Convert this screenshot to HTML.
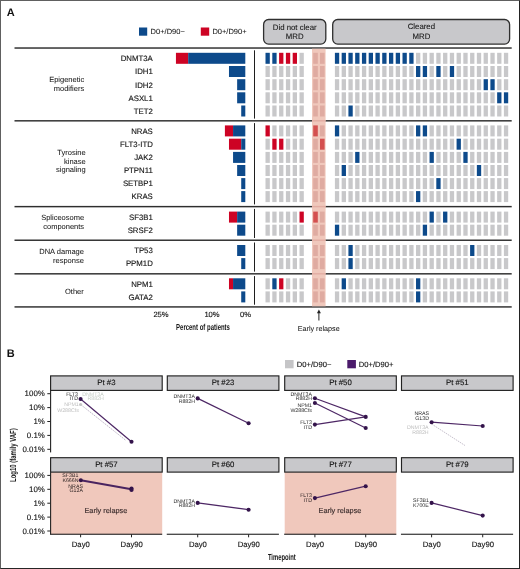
<!DOCTYPE html>
<html><head><meta charset="utf-8"><style>
html,body{margin:0;padding:0;background:#fff;}
#f{position:relative;width:520px;height:569px;overflow:hidden;background:#fff;}
#bd{position:absolute;left:0;top:0;width:518px;height:567px;border:1px solid #606060;border-right-color:#222;border-bottom-color:#262626;}
svg{position:absolute;left:0;top:0;will-change:transform;}
text{font-family:"Liberation Sans",sans-serif;fill:#161616;stroke:#161616;stroke-width:0.14px;text-rendering:geometricPrecision;}
.t7{font-size:7px;}
.t72{font-size:7.2px;stroke-width:0.04px;}
.t75{font-size:7.5px;stroke-width:0.06px;}
.t75c{font-size:8.8px;font-weight:bold;stroke:none;}
.t78{font-size:7.8px;stroke-width:0.09px;}
.t74{font-size:7.5px;stroke-width:0.04px;}
.t76{font-size:7.6px;}
.t79{font-size:7.9px;}
.t77{font-size:7.7px;}
.t8{font-size:7.8px;}
.t8b{font-size:7.35px;fill:#3a2c2c;stroke:#3a2c2c;}
.t5{font-size:5.25px;}
.big{font-size:11px;font-weight:bold;fill:#111;stroke:none;}
</style></head><body><div id="f"><div id="bd"></div>
<svg width="520" height="569" viewBox="0 0 520 569">
<rect x="139" y="27.5" width="8.2" height="8.2" fill="#0d4a8b"/>
<text x="150.6" y="34.2" class="t75">D0+/D90&#8722;</text>
<rect x="200.8" y="27.5" width="8.4" height="8.2" fill="#cd0324"/>
<text x="212.4" y="34.2" class="t75">D0+/D90+</text>
<rect x="263.6" y="19.5" width="62.2" height="24.6" rx="5" ry="5" fill="#c8c8cb" stroke="#2f2f2f" stroke-width="1.3"/>
<text x="294.7" y="29.5" class="t78" text-anchor="middle">Did not clear</text>
<text x="294.7" y="38.9" class="t78" text-anchor="middle">MRD</text>
<rect x="332.7" y="19.5" width="176.9" height="24.6" rx="5" ry="5" fill="#c8c8cb" stroke="#2f2f2f" stroke-width="1.3"/>
<text x="421.4" y="29.4" class="t78" text-anchor="middle">Cleared</text>
<text x="421.4" y="38.9" class="t78" text-anchor="middle">MRD</text>
<rect x="265.50" y="52.8" width="4.3" height="11.0" fill="#0d4a8b"/>
<rect x="272.30" y="52.8" width="4.3" height="11.0" fill="#0d4a8b"/>
<rect x="279.10" y="52.8" width="4.3" height="11.0" fill="#cd0324"/>
<rect x="285.90" y="52.8" width="4.3" height="11.0" fill="#cd0324"/>
<rect x="292.70" y="52.8" width="4.3" height="11.0" fill="#cd0324"/>
<rect x="299.50" y="52.8" width="4.3" height="11.0" fill="#c8c8ca"/>
<rect x="334.90" y="52.8" width="4.3" height="11.0" fill="#0d4a8b"/>
<rect x="341.66" y="52.8" width="4.3" height="11.0" fill="#0d4a8b"/>
<rect x="348.42" y="52.8" width="4.3" height="11.0" fill="#0d4a8b"/>
<rect x="355.18" y="52.8" width="4.3" height="11.0" fill="#0d4a8b"/>
<rect x="361.94" y="52.8" width="4.3" height="11.0" fill="#0d4a8b"/>
<rect x="368.70" y="52.8" width="4.3" height="11.0" fill="#0d4a8b"/>
<rect x="375.46" y="52.8" width="4.3" height="11.0" fill="#0d4a8b"/>
<rect x="382.22" y="52.8" width="4.3" height="11.0" fill="#0d4a8b"/>
<rect x="388.98" y="52.8" width="4.3" height="11.0" fill="#0d4a8b"/>
<rect x="395.74" y="52.8" width="4.3" height="11.0" fill="#0d4a8b"/>
<rect x="402.50" y="52.8" width="4.3" height="11.0" fill="#0d4a8b"/>
<rect x="409.26" y="52.8" width="4.3" height="11.0" fill="#0d4a8b"/>
<rect x="416.02" y="52.8" width="4.3" height="11.0" fill="#c8c8ca"/>
<rect x="422.78" y="52.8" width="4.3" height="11.0" fill="#c8c8ca"/>
<rect x="429.54" y="52.8" width="4.3" height="11.0" fill="#c8c8ca"/>
<rect x="436.30" y="52.8" width="4.3" height="11.0" fill="#c8c8ca"/>
<rect x="443.06" y="52.8" width="4.3" height="11.0" fill="#c8c8ca"/>
<rect x="449.82" y="52.8" width="4.3" height="11.0" fill="#c8c8ca"/>
<rect x="456.58" y="52.8" width="4.3" height="11.0" fill="#c8c8ca"/>
<rect x="463.34" y="52.8" width="4.3" height="11.0" fill="#c8c8ca"/>
<rect x="470.10" y="52.8" width="4.3" height="11.0" fill="#c8c8ca"/>
<rect x="476.86" y="52.8" width="4.3" height="11.0" fill="#c8c8ca"/>
<rect x="483.62" y="52.8" width="4.3" height="11.0" fill="#c8c8ca"/>
<rect x="490.38" y="52.8" width="4.3" height="11.0" fill="#c8c8ca"/>
<rect x="497.14" y="52.8" width="4.3" height="11.0" fill="#c8c8ca"/>
<rect x="503.90" y="52.8" width="4.3" height="11.0" fill="#c8c8ca"/>
<rect x="175.94" y="52.8" width="12.24" height="11.0" fill="#cd0324"/>
<rect x="188.18" y="52.8" width="57.12" height="11.0" fill="#0d4a8b"/>
<text x="152.8" y="61.10" class="t8" text-anchor="end">DNMT3A</text>
<rect x="265.50" y="66.0" width="4.3" height="11.0" fill="#c8c8ca"/>
<rect x="272.30" y="66.0" width="4.3" height="11.0" fill="#c8c8ca"/>
<rect x="279.10" y="66.0" width="4.3" height="11.0" fill="#c8c8ca"/>
<rect x="285.90" y="66.0" width="4.3" height="11.0" fill="#c8c8ca"/>
<rect x="292.70" y="66.0" width="4.3" height="11.0" fill="#c8c8ca"/>
<rect x="299.50" y="66.0" width="4.3" height="11.0" fill="#c8c8ca"/>
<rect x="334.90" y="66.0" width="4.3" height="11.0" fill="#c8c8ca"/>
<rect x="341.66" y="66.0" width="4.3" height="11.0" fill="#c8c8ca"/>
<rect x="348.42" y="66.0" width="4.3" height="11.0" fill="#c8c8ca"/>
<rect x="355.18" y="66.0" width="4.3" height="11.0" fill="#c8c8ca"/>
<rect x="361.94" y="66.0" width="4.3" height="11.0" fill="#c8c8ca"/>
<rect x="368.70" y="66.0" width="4.3" height="11.0" fill="#c8c8ca"/>
<rect x="375.46" y="66.0" width="4.3" height="11.0" fill="#c8c8ca"/>
<rect x="382.22" y="66.0" width="4.3" height="11.0" fill="#c8c8ca"/>
<rect x="388.98" y="66.0" width="4.3" height="11.0" fill="#c8c8ca"/>
<rect x="395.74" y="66.0" width="4.3" height="11.0" fill="#c8c8ca"/>
<rect x="402.50" y="66.0" width="4.3" height="11.0" fill="#c8c8ca"/>
<rect x="409.26" y="66.0" width="4.3" height="11.0" fill="#c8c8ca"/>
<rect x="416.02" y="66.0" width="4.3" height="11.0" fill="#0d4a8b"/>
<rect x="422.78" y="66.0" width="4.3" height="11.0" fill="#0d4a8b"/>
<rect x="429.54" y="66.0" width="4.3" height="11.0" fill="#c8c8ca"/>
<rect x="436.30" y="66.0" width="4.3" height="11.0" fill="#0d4a8b"/>
<rect x="443.06" y="66.0" width="4.3" height="11.0" fill="#c8c8ca"/>
<rect x="449.82" y="66.0" width="4.3" height="11.0" fill="#0d4a8b"/>
<rect x="456.58" y="66.0" width="4.3" height="11.0" fill="#c8c8ca"/>
<rect x="463.34" y="66.0" width="4.3" height="11.0" fill="#c8c8ca"/>
<rect x="470.10" y="66.0" width="4.3" height="11.0" fill="#c8c8ca"/>
<rect x="476.86" y="66.0" width="4.3" height="11.0" fill="#c8c8ca"/>
<rect x="483.62" y="66.0" width="4.3" height="11.0" fill="#c8c8ca"/>
<rect x="490.38" y="66.0" width="4.3" height="11.0" fill="#c8c8ca"/>
<rect x="497.14" y="66.0" width="4.3" height="11.0" fill="#c8c8ca"/>
<rect x="503.90" y="66.0" width="4.3" height="11.0" fill="#c8c8ca"/>
<rect x="228.98" y="66.0" width="16.32" height="11.0" fill="#0d4a8b"/>
<text x="152.8" y="74.30" class="t8" text-anchor="end">IDH1</text>
<rect x="265.50" y="79.2" width="4.3" height="11.0" fill="#c8c8ca"/>
<rect x="272.30" y="79.2" width="4.3" height="11.0" fill="#c8c8ca"/>
<rect x="279.10" y="79.2" width="4.3" height="11.0" fill="#c8c8ca"/>
<rect x="285.90" y="79.2" width="4.3" height="11.0" fill="#c8c8ca"/>
<rect x="292.70" y="79.2" width="4.3" height="11.0" fill="#c8c8ca"/>
<rect x="299.50" y="79.2" width="4.3" height="11.0" fill="#c8c8ca"/>
<rect x="334.90" y="79.2" width="4.3" height="11.0" fill="#c8c8ca"/>
<rect x="341.66" y="79.2" width="4.3" height="11.0" fill="#c8c8ca"/>
<rect x="348.42" y="79.2" width="4.3" height="11.0" fill="#c8c8ca"/>
<rect x="355.18" y="79.2" width="4.3" height="11.0" fill="#c8c8ca"/>
<rect x="361.94" y="79.2" width="4.3" height="11.0" fill="#c8c8ca"/>
<rect x="368.70" y="79.2" width="4.3" height="11.0" fill="#c8c8ca"/>
<rect x="375.46" y="79.2" width="4.3" height="11.0" fill="#c8c8ca"/>
<rect x="382.22" y="79.2" width="4.3" height="11.0" fill="#c8c8ca"/>
<rect x="388.98" y="79.2" width="4.3" height="11.0" fill="#c8c8ca"/>
<rect x="395.74" y="79.2" width="4.3" height="11.0" fill="#c8c8ca"/>
<rect x="402.50" y="79.2" width="4.3" height="11.0" fill="#c8c8ca"/>
<rect x="409.26" y="79.2" width="4.3" height="11.0" fill="#c8c8ca"/>
<rect x="416.02" y="79.2" width="4.3" height="11.0" fill="#c8c8ca"/>
<rect x="422.78" y="79.2" width="4.3" height="11.0" fill="#c8c8ca"/>
<rect x="429.54" y="79.2" width="4.3" height="11.0" fill="#c8c8ca"/>
<rect x="436.30" y="79.2" width="4.3" height="11.0" fill="#c8c8ca"/>
<rect x="443.06" y="79.2" width="4.3" height="11.0" fill="#c8c8ca"/>
<rect x="449.82" y="79.2" width="4.3" height="11.0" fill="#c8c8ca"/>
<rect x="456.58" y="79.2" width="4.3" height="11.0" fill="#c8c8ca"/>
<rect x="463.34" y="79.2" width="4.3" height="11.0" fill="#c8c8ca"/>
<rect x="470.10" y="79.2" width="4.3" height="11.0" fill="#c8c8ca"/>
<rect x="476.86" y="79.2" width="4.3" height="11.0" fill="#c8c8ca"/>
<rect x="483.62" y="79.2" width="4.3" height="11.0" fill="#0d4a8b"/>
<rect x="490.38" y="79.2" width="4.3" height="11.0" fill="#0d4a8b"/>
<rect x="497.14" y="79.2" width="4.3" height="11.0" fill="#c8c8ca"/>
<rect x="503.90" y="79.2" width="4.3" height="11.0" fill="#c8c8ca"/>
<rect x="237.14" y="79.2" width="8.16" height="11.0" fill="#0d4a8b"/>
<text x="152.8" y="87.50" class="t8" text-anchor="end">IDH2</text>
<rect x="265.50" y="92.3" width="4.3" height="11.0" fill="#c8c8ca"/>
<rect x="272.30" y="92.3" width="4.3" height="11.0" fill="#c8c8ca"/>
<rect x="279.10" y="92.3" width="4.3" height="11.0" fill="#c8c8ca"/>
<rect x="285.90" y="92.3" width="4.3" height="11.0" fill="#c8c8ca"/>
<rect x="292.70" y="92.3" width="4.3" height="11.0" fill="#c8c8ca"/>
<rect x="299.50" y="92.3" width="4.3" height="11.0" fill="#c8c8ca"/>
<rect x="334.90" y="92.3" width="4.3" height="11.0" fill="#c8c8ca"/>
<rect x="341.66" y="92.3" width="4.3" height="11.0" fill="#c8c8ca"/>
<rect x="348.42" y="92.3" width="4.3" height="11.0" fill="#c8c8ca"/>
<rect x="355.18" y="92.3" width="4.3" height="11.0" fill="#c8c8ca"/>
<rect x="361.94" y="92.3" width="4.3" height="11.0" fill="#c8c8ca"/>
<rect x="368.70" y="92.3" width="4.3" height="11.0" fill="#c8c8ca"/>
<rect x="375.46" y="92.3" width="4.3" height="11.0" fill="#c8c8ca"/>
<rect x="382.22" y="92.3" width="4.3" height="11.0" fill="#c8c8ca"/>
<rect x="388.98" y="92.3" width="4.3" height="11.0" fill="#c8c8ca"/>
<rect x="395.74" y="92.3" width="4.3" height="11.0" fill="#c8c8ca"/>
<rect x="402.50" y="92.3" width="4.3" height="11.0" fill="#c8c8ca"/>
<rect x="409.26" y="92.3" width="4.3" height="11.0" fill="#c8c8ca"/>
<rect x="416.02" y="92.3" width="4.3" height="11.0" fill="#c8c8ca"/>
<rect x="422.78" y="92.3" width="4.3" height="11.0" fill="#c8c8ca"/>
<rect x="429.54" y="92.3" width="4.3" height="11.0" fill="#c8c8ca"/>
<rect x="436.30" y="92.3" width="4.3" height="11.0" fill="#c8c8ca"/>
<rect x="443.06" y="92.3" width="4.3" height="11.0" fill="#c8c8ca"/>
<rect x="449.82" y="92.3" width="4.3" height="11.0" fill="#c8c8ca"/>
<rect x="456.58" y="92.3" width="4.3" height="11.0" fill="#c8c8ca"/>
<rect x="463.34" y="92.3" width="4.3" height="11.0" fill="#c8c8ca"/>
<rect x="470.10" y="92.3" width="4.3" height="11.0" fill="#c8c8ca"/>
<rect x="476.86" y="92.3" width="4.3" height="11.0" fill="#c8c8ca"/>
<rect x="483.62" y="92.3" width="4.3" height="11.0" fill="#c8c8ca"/>
<rect x="490.38" y="92.3" width="4.3" height="11.0" fill="#c8c8ca"/>
<rect x="497.14" y="92.3" width="4.3" height="11.0" fill="#0d4a8b"/>
<rect x="503.90" y="92.3" width="4.3" height="11.0" fill="#0d4a8b"/>
<rect x="237.14" y="92.3" width="8.16" height="11.0" fill="#0d4a8b"/>
<text x="152.8" y="100.60" class="t8" text-anchor="end">ASXL1</text>
<rect x="265.50" y="105.5" width="4.3" height="11.0" fill="#c8c8ca"/>
<rect x="272.30" y="105.5" width="4.3" height="11.0" fill="#c8c8ca"/>
<rect x="279.10" y="105.5" width="4.3" height="11.0" fill="#c8c8ca"/>
<rect x="285.90" y="105.5" width="4.3" height="11.0" fill="#c8c8ca"/>
<rect x="292.70" y="105.5" width="4.3" height="11.0" fill="#c8c8ca"/>
<rect x="299.50" y="105.5" width="4.3" height="11.0" fill="#c8c8ca"/>
<rect x="334.90" y="105.5" width="4.3" height="11.0" fill="#c8c8ca"/>
<rect x="341.66" y="105.5" width="4.3" height="11.0" fill="#c8c8ca"/>
<rect x="348.42" y="105.5" width="4.3" height="11.0" fill="#0d4a8b"/>
<rect x="355.18" y="105.5" width="4.3" height="11.0" fill="#c8c8ca"/>
<rect x="361.94" y="105.5" width="4.3" height="11.0" fill="#c8c8ca"/>
<rect x="368.70" y="105.5" width="4.3" height="11.0" fill="#c8c8ca"/>
<rect x="375.46" y="105.5" width="4.3" height="11.0" fill="#c8c8ca"/>
<rect x="382.22" y="105.5" width="4.3" height="11.0" fill="#c8c8ca"/>
<rect x="388.98" y="105.5" width="4.3" height="11.0" fill="#c8c8ca"/>
<rect x="395.74" y="105.5" width="4.3" height="11.0" fill="#c8c8ca"/>
<rect x="402.50" y="105.5" width="4.3" height="11.0" fill="#c8c8ca"/>
<rect x="409.26" y="105.5" width="4.3" height="11.0" fill="#c8c8ca"/>
<rect x="416.02" y="105.5" width="4.3" height="11.0" fill="#c8c8ca"/>
<rect x="422.78" y="105.5" width="4.3" height="11.0" fill="#c8c8ca"/>
<rect x="429.54" y="105.5" width="4.3" height="11.0" fill="#c8c8ca"/>
<rect x="436.30" y="105.5" width="4.3" height="11.0" fill="#c8c8ca"/>
<rect x="443.06" y="105.5" width="4.3" height="11.0" fill="#c8c8ca"/>
<rect x="449.82" y="105.5" width="4.3" height="11.0" fill="#c8c8ca"/>
<rect x="456.58" y="105.5" width="4.3" height="11.0" fill="#c8c8ca"/>
<rect x="463.34" y="105.5" width="4.3" height="11.0" fill="#c8c8ca"/>
<rect x="470.10" y="105.5" width="4.3" height="11.0" fill="#c8c8ca"/>
<rect x="476.86" y="105.5" width="4.3" height="11.0" fill="#c8c8ca"/>
<rect x="483.62" y="105.5" width="4.3" height="11.0" fill="#c8c8ca"/>
<rect x="490.38" y="105.5" width="4.3" height="11.0" fill="#c8c8ca"/>
<rect x="497.14" y="105.5" width="4.3" height="11.0" fill="#c8c8ca"/>
<rect x="503.90" y="105.5" width="4.3" height="11.0" fill="#c8c8ca"/>
<rect x="241.22" y="105.5" width="4.08" height="11.0" fill="#0d4a8b"/>
<text x="152.8" y="113.80" class="t8" text-anchor="end">TET2</text>
<rect x="254.0" y="50.30" width="1" height="68.30" fill="#1e1e1e"/>
<rect x="265.50" y="125.4" width="4.3" height="11.0" fill="#cd0324"/>
<rect x="272.30" y="125.4" width="4.3" height="11.0" fill="#c8c8ca"/>
<rect x="279.10" y="125.4" width="4.3" height="11.0" fill="#c8c8ca"/>
<rect x="285.90" y="125.4" width="4.3" height="11.0" fill="#c8c8ca"/>
<rect x="292.70" y="125.4" width="4.3" height="11.0" fill="#c8c8ca"/>
<rect x="299.50" y="125.4" width="4.3" height="11.0" fill="#c8c8ca"/>
<rect x="334.90" y="125.4" width="4.3" height="11.0" fill="#0d4a8b"/>
<rect x="341.66" y="125.4" width="4.3" height="11.0" fill="#c8c8ca"/>
<rect x="348.42" y="125.4" width="4.3" height="11.0" fill="#c8c8ca"/>
<rect x="355.18" y="125.4" width="4.3" height="11.0" fill="#c8c8ca"/>
<rect x="361.94" y="125.4" width="4.3" height="11.0" fill="#c8c8ca"/>
<rect x="368.70" y="125.4" width="4.3" height="11.0" fill="#c8c8ca"/>
<rect x="375.46" y="125.4" width="4.3" height="11.0" fill="#c8c8ca"/>
<rect x="382.22" y="125.4" width="4.3" height="11.0" fill="#c8c8ca"/>
<rect x="388.98" y="125.4" width="4.3" height="11.0" fill="#c8c8ca"/>
<rect x="395.74" y="125.4" width="4.3" height="11.0" fill="#c8c8ca"/>
<rect x="402.50" y="125.4" width="4.3" height="11.0" fill="#c8c8ca"/>
<rect x="409.26" y="125.4" width="4.3" height="11.0" fill="#c8c8ca"/>
<rect x="416.02" y="125.4" width="4.3" height="11.0" fill="#0d4a8b"/>
<rect x="422.78" y="125.4" width="4.3" height="11.0" fill="#0d4a8b"/>
<rect x="429.54" y="125.4" width="4.3" height="11.0" fill="#c8c8ca"/>
<rect x="436.30" y="125.4" width="4.3" height="11.0" fill="#c8c8ca"/>
<rect x="443.06" y="125.4" width="4.3" height="11.0" fill="#c8c8ca"/>
<rect x="449.82" y="125.4" width="4.3" height="11.0" fill="#c8c8ca"/>
<rect x="456.58" y="125.4" width="4.3" height="11.0" fill="#c8c8ca"/>
<rect x="463.34" y="125.4" width="4.3" height="11.0" fill="#c8c8ca"/>
<rect x="470.10" y="125.4" width="4.3" height="11.0" fill="#c8c8ca"/>
<rect x="476.86" y="125.4" width="4.3" height="11.0" fill="#c8c8ca"/>
<rect x="483.62" y="125.4" width="4.3" height="11.0" fill="#c8c8ca"/>
<rect x="490.38" y="125.4" width="4.3" height="11.0" fill="#c8c8ca"/>
<rect x="497.14" y="125.4" width="4.3" height="11.0" fill="#c8c8ca"/>
<rect x="503.90" y="125.4" width="4.3" height="11.0" fill="#c8c8ca"/>
<rect x="224.90" y="125.4" width="8.16" height="11.0" fill="#cd0324"/>
<rect x="233.06" y="125.4" width="12.24" height="11.0" fill="#0d4a8b"/>
<text x="152.8" y="133.70" class="t8" text-anchor="end">NRAS</text>
<rect x="265.50" y="138.7" width="4.3" height="11.0" fill="#c8c8ca"/>
<rect x="272.30" y="138.7" width="4.3" height="11.0" fill="#cd0324"/>
<rect x="279.10" y="138.7" width="4.3" height="11.0" fill="#cd0324"/>
<rect x="285.90" y="138.7" width="4.3" height="11.0" fill="#c8c8ca"/>
<rect x="292.70" y="138.7" width="4.3" height="11.0" fill="#c8c8ca"/>
<rect x="299.50" y="138.7" width="4.3" height="11.0" fill="#c8c8ca"/>
<rect x="334.90" y="138.7" width="4.3" height="11.0" fill="#c8c8ca"/>
<rect x="341.66" y="138.7" width="4.3" height="11.0" fill="#c8c8ca"/>
<rect x="348.42" y="138.7" width="4.3" height="11.0" fill="#c8c8ca"/>
<rect x="355.18" y="138.7" width="4.3" height="11.0" fill="#c8c8ca"/>
<rect x="361.94" y="138.7" width="4.3" height="11.0" fill="#c8c8ca"/>
<rect x="368.70" y="138.7" width="4.3" height="11.0" fill="#c8c8ca"/>
<rect x="375.46" y="138.7" width="4.3" height="11.0" fill="#c8c8ca"/>
<rect x="382.22" y="138.7" width="4.3" height="11.0" fill="#c8c8ca"/>
<rect x="388.98" y="138.7" width="4.3" height="11.0" fill="#c8c8ca"/>
<rect x="395.74" y="138.7" width="4.3" height="11.0" fill="#c8c8ca"/>
<rect x="402.50" y="138.7" width="4.3" height="11.0" fill="#c8c8ca"/>
<rect x="409.26" y="138.7" width="4.3" height="11.0" fill="#c8c8ca"/>
<rect x="416.02" y="138.7" width="4.3" height="11.0" fill="#c8c8ca"/>
<rect x="422.78" y="138.7" width="4.3" height="11.0" fill="#c8c8ca"/>
<rect x="429.54" y="138.7" width="4.3" height="11.0" fill="#c8c8ca"/>
<rect x="436.30" y="138.7" width="4.3" height="11.0" fill="#c8c8ca"/>
<rect x="443.06" y="138.7" width="4.3" height="11.0" fill="#c8c8ca"/>
<rect x="449.82" y="138.7" width="4.3" height="11.0" fill="#c8c8ca"/>
<rect x="456.58" y="138.7" width="4.3" height="11.0" fill="#0d4a8b"/>
<rect x="463.34" y="138.7" width="4.3" height="11.0" fill="#c8c8ca"/>
<rect x="470.10" y="138.7" width="4.3" height="11.0" fill="#c8c8ca"/>
<rect x="476.86" y="138.7" width="4.3" height="11.0" fill="#c8c8ca"/>
<rect x="483.62" y="138.7" width="4.3" height="11.0" fill="#c8c8ca"/>
<rect x="490.38" y="138.7" width="4.3" height="11.0" fill="#c8c8ca"/>
<rect x="497.14" y="138.7" width="4.3" height="11.0" fill="#c8c8ca"/>
<rect x="503.90" y="138.7" width="4.3" height="11.0" fill="#c8c8ca"/>
<rect x="228.98" y="138.7" width="12.24" height="11.0" fill="#cd0324"/>
<rect x="241.22" y="138.7" width="4.08" height="11.0" fill="#0d4a8b"/>
<text x="152.8" y="147.00" class="t8" text-anchor="end">FLT3-ITD</text>
<rect x="265.50" y="151.9" width="4.3" height="11.0" fill="#c8c8ca"/>
<rect x="272.30" y="151.9" width="4.3" height="11.0" fill="#c8c8ca"/>
<rect x="279.10" y="151.9" width="4.3" height="11.0" fill="#c8c8ca"/>
<rect x="285.90" y="151.9" width="4.3" height="11.0" fill="#c8c8ca"/>
<rect x="292.70" y="151.9" width="4.3" height="11.0" fill="#c8c8ca"/>
<rect x="299.50" y="151.9" width="4.3" height="11.0" fill="#c8c8ca"/>
<rect x="334.90" y="151.9" width="4.3" height="11.0" fill="#c8c8ca"/>
<rect x="341.66" y="151.9" width="4.3" height="11.0" fill="#c8c8ca"/>
<rect x="348.42" y="151.9" width="4.3" height="11.0" fill="#c8c8ca"/>
<rect x="355.18" y="151.9" width="4.3" height="11.0" fill="#0d4a8b"/>
<rect x="361.94" y="151.9" width="4.3" height="11.0" fill="#c8c8ca"/>
<rect x="368.70" y="151.9" width="4.3" height="11.0" fill="#c8c8ca"/>
<rect x="375.46" y="151.9" width="4.3" height="11.0" fill="#c8c8ca"/>
<rect x="382.22" y="151.9" width="4.3" height="11.0" fill="#c8c8ca"/>
<rect x="388.98" y="151.9" width="4.3" height="11.0" fill="#c8c8ca"/>
<rect x="395.74" y="151.9" width="4.3" height="11.0" fill="#c8c8ca"/>
<rect x="402.50" y="151.9" width="4.3" height="11.0" fill="#c8c8ca"/>
<rect x="409.26" y="151.9" width="4.3" height="11.0" fill="#c8c8ca"/>
<rect x="416.02" y="151.9" width="4.3" height="11.0" fill="#c8c8ca"/>
<rect x="422.78" y="151.9" width="4.3" height="11.0" fill="#c8c8ca"/>
<rect x="429.54" y="151.9" width="4.3" height="11.0" fill="#0d4a8b"/>
<rect x="436.30" y="151.9" width="4.3" height="11.0" fill="#c8c8ca"/>
<rect x="443.06" y="151.9" width="4.3" height="11.0" fill="#c8c8ca"/>
<rect x="449.82" y="151.9" width="4.3" height="11.0" fill="#c8c8ca"/>
<rect x="456.58" y="151.9" width="4.3" height="11.0" fill="#c8c8ca"/>
<rect x="463.34" y="151.9" width="4.3" height="11.0" fill="#0d4a8b"/>
<rect x="470.10" y="151.9" width="4.3" height="11.0" fill="#c8c8ca"/>
<rect x="476.86" y="151.9" width="4.3" height="11.0" fill="#c8c8ca"/>
<rect x="483.62" y="151.9" width="4.3" height="11.0" fill="#c8c8ca"/>
<rect x="490.38" y="151.9" width="4.3" height="11.0" fill="#c8c8ca"/>
<rect x="497.14" y="151.9" width="4.3" height="11.0" fill="#c8c8ca"/>
<rect x="503.90" y="151.9" width="4.3" height="11.0" fill="#c8c8ca"/>
<rect x="233.06" y="151.9" width="12.24" height="11.0" fill="#0d4a8b"/>
<text x="152.8" y="160.20" class="t8" text-anchor="end">JAK2</text>
<rect x="265.50" y="165.0" width="4.3" height="11.0" fill="#c8c8ca"/>
<rect x="272.30" y="165.0" width="4.3" height="11.0" fill="#c8c8ca"/>
<rect x="279.10" y="165.0" width="4.3" height="11.0" fill="#c8c8ca"/>
<rect x="285.90" y="165.0" width="4.3" height="11.0" fill="#c8c8ca"/>
<rect x="292.70" y="165.0" width="4.3" height="11.0" fill="#c8c8ca"/>
<rect x="299.50" y="165.0" width="4.3" height="11.0" fill="#c8c8ca"/>
<rect x="334.90" y="165.0" width="4.3" height="11.0" fill="#c8c8ca"/>
<rect x="341.66" y="165.0" width="4.3" height="11.0" fill="#0d4a8b"/>
<rect x="348.42" y="165.0" width="4.3" height="11.0" fill="#c8c8ca"/>
<rect x="355.18" y="165.0" width="4.3" height="11.0" fill="#c8c8ca"/>
<rect x="361.94" y="165.0" width="4.3" height="11.0" fill="#c8c8ca"/>
<rect x="368.70" y="165.0" width="4.3" height="11.0" fill="#c8c8ca"/>
<rect x="375.46" y="165.0" width="4.3" height="11.0" fill="#c8c8ca"/>
<rect x="382.22" y="165.0" width="4.3" height="11.0" fill="#c8c8ca"/>
<rect x="388.98" y="165.0" width="4.3" height="11.0" fill="#c8c8ca"/>
<rect x="395.74" y="165.0" width="4.3" height="11.0" fill="#c8c8ca"/>
<rect x="402.50" y="165.0" width="4.3" height="11.0" fill="#c8c8ca"/>
<rect x="409.26" y="165.0" width="4.3" height="11.0" fill="#c8c8ca"/>
<rect x="416.02" y="165.0" width="4.3" height="11.0" fill="#c8c8ca"/>
<rect x="422.78" y="165.0" width="4.3" height="11.0" fill="#c8c8ca"/>
<rect x="429.54" y="165.0" width="4.3" height="11.0" fill="#c8c8ca"/>
<rect x="436.30" y="165.0" width="4.3" height="11.0" fill="#c8c8ca"/>
<rect x="443.06" y="165.0" width="4.3" height="11.0" fill="#c8c8ca"/>
<rect x="449.82" y="165.0" width="4.3" height="11.0" fill="#c8c8ca"/>
<rect x="456.58" y="165.0" width="4.3" height="11.0" fill="#c8c8ca"/>
<rect x="463.34" y="165.0" width="4.3" height="11.0" fill="#c8c8ca"/>
<rect x="470.10" y="165.0" width="4.3" height="11.0" fill="#c8c8ca"/>
<rect x="476.86" y="165.0" width="4.3" height="11.0" fill="#0d4a8b"/>
<rect x="483.62" y="165.0" width="4.3" height="11.0" fill="#c8c8ca"/>
<rect x="490.38" y="165.0" width="4.3" height="11.0" fill="#c8c8ca"/>
<rect x="497.14" y="165.0" width="4.3" height="11.0" fill="#c8c8ca"/>
<rect x="503.90" y="165.0" width="4.3" height="11.0" fill="#c8c8ca"/>
<rect x="237.14" y="165.0" width="8.16" height="11.0" fill="#0d4a8b"/>
<text x="152.8" y="173.30" class="t8" text-anchor="end">PTPN11</text>
<rect x="265.50" y="178.1" width="4.3" height="11.0" fill="#c8c8ca"/>
<rect x="272.30" y="178.1" width="4.3" height="11.0" fill="#c8c8ca"/>
<rect x="279.10" y="178.1" width="4.3" height="11.0" fill="#c8c8ca"/>
<rect x="285.90" y="178.1" width="4.3" height="11.0" fill="#c8c8ca"/>
<rect x="292.70" y="178.1" width="4.3" height="11.0" fill="#c8c8ca"/>
<rect x="299.50" y="178.1" width="4.3" height="11.0" fill="#c8c8ca"/>
<rect x="334.90" y="178.1" width="4.3" height="11.0" fill="#c8c8ca"/>
<rect x="341.66" y="178.1" width="4.3" height="11.0" fill="#c8c8ca"/>
<rect x="348.42" y="178.1" width="4.3" height="11.0" fill="#c8c8ca"/>
<rect x="355.18" y="178.1" width="4.3" height="11.0" fill="#c8c8ca"/>
<rect x="361.94" y="178.1" width="4.3" height="11.0" fill="#c8c8ca"/>
<rect x="368.70" y="178.1" width="4.3" height="11.0" fill="#c8c8ca"/>
<rect x="375.46" y="178.1" width="4.3" height="11.0" fill="#c8c8ca"/>
<rect x="382.22" y="178.1" width="4.3" height="11.0" fill="#c8c8ca"/>
<rect x="388.98" y="178.1" width="4.3" height="11.0" fill="#c8c8ca"/>
<rect x="395.74" y="178.1" width="4.3" height="11.0" fill="#c8c8ca"/>
<rect x="402.50" y="178.1" width="4.3" height="11.0" fill="#c8c8ca"/>
<rect x="409.26" y="178.1" width="4.3" height="11.0" fill="#c8c8ca"/>
<rect x="416.02" y="178.1" width="4.3" height="11.0" fill="#c8c8ca"/>
<rect x="422.78" y="178.1" width="4.3" height="11.0" fill="#c8c8ca"/>
<rect x="429.54" y="178.1" width="4.3" height="11.0" fill="#c8c8ca"/>
<rect x="436.30" y="178.1" width="4.3" height="11.0" fill="#0d4a8b"/>
<rect x="443.06" y="178.1" width="4.3" height="11.0" fill="#c8c8ca"/>
<rect x="449.82" y="178.1" width="4.3" height="11.0" fill="#c8c8ca"/>
<rect x="456.58" y="178.1" width="4.3" height="11.0" fill="#c8c8ca"/>
<rect x="463.34" y="178.1" width="4.3" height="11.0" fill="#c8c8ca"/>
<rect x="470.10" y="178.1" width="4.3" height="11.0" fill="#c8c8ca"/>
<rect x="476.86" y="178.1" width="4.3" height="11.0" fill="#c8c8ca"/>
<rect x="483.62" y="178.1" width="4.3" height="11.0" fill="#c8c8ca"/>
<rect x="490.38" y="178.1" width="4.3" height="11.0" fill="#c8c8ca"/>
<rect x="497.14" y="178.1" width="4.3" height="11.0" fill="#c8c8ca"/>
<rect x="503.90" y="178.1" width="4.3" height="11.0" fill="#c8c8ca"/>
<rect x="241.22" y="178.1" width="4.08" height="11.0" fill="#0d4a8b"/>
<text x="152.8" y="186.40" class="t8" text-anchor="end">SETBP1</text>
<rect x="265.50" y="191.1" width="4.3" height="11.0" fill="#c8c8ca"/>
<rect x="272.30" y="191.1" width="4.3" height="11.0" fill="#c8c8ca"/>
<rect x="279.10" y="191.1" width="4.3" height="11.0" fill="#c8c8ca"/>
<rect x="285.90" y="191.1" width="4.3" height="11.0" fill="#c8c8ca"/>
<rect x="292.70" y="191.1" width="4.3" height="11.0" fill="#c8c8ca"/>
<rect x="299.50" y="191.1" width="4.3" height="11.0" fill="#c8c8ca"/>
<rect x="334.90" y="191.1" width="4.3" height="11.0" fill="#c8c8ca"/>
<rect x="341.66" y="191.1" width="4.3" height="11.0" fill="#c8c8ca"/>
<rect x="348.42" y="191.1" width="4.3" height="11.0" fill="#c8c8ca"/>
<rect x="355.18" y="191.1" width="4.3" height="11.0" fill="#c8c8ca"/>
<rect x="361.94" y="191.1" width="4.3" height="11.0" fill="#c8c8ca"/>
<rect x="368.70" y="191.1" width="4.3" height="11.0" fill="#c8c8ca"/>
<rect x="375.46" y="191.1" width="4.3" height="11.0" fill="#c8c8ca"/>
<rect x="382.22" y="191.1" width="4.3" height="11.0" fill="#c8c8ca"/>
<rect x="388.98" y="191.1" width="4.3" height="11.0" fill="#c8c8ca"/>
<rect x="395.74" y="191.1" width="4.3" height="11.0" fill="#c8c8ca"/>
<rect x="402.50" y="191.1" width="4.3" height="11.0" fill="#c8c8ca"/>
<rect x="409.26" y="191.1" width="4.3" height="11.0" fill="#c8c8ca"/>
<rect x="416.02" y="191.1" width="4.3" height="11.0" fill="#0d4a8b"/>
<rect x="422.78" y="191.1" width="4.3" height="11.0" fill="#c8c8ca"/>
<rect x="429.54" y="191.1" width="4.3" height="11.0" fill="#c8c8ca"/>
<rect x="436.30" y="191.1" width="4.3" height="11.0" fill="#c8c8ca"/>
<rect x="443.06" y="191.1" width="4.3" height="11.0" fill="#c8c8ca"/>
<rect x="449.82" y="191.1" width="4.3" height="11.0" fill="#c8c8ca"/>
<rect x="456.58" y="191.1" width="4.3" height="11.0" fill="#c8c8ca"/>
<rect x="463.34" y="191.1" width="4.3" height="11.0" fill="#c8c8ca"/>
<rect x="470.10" y="191.1" width="4.3" height="11.0" fill="#c8c8ca"/>
<rect x="476.86" y="191.1" width="4.3" height="11.0" fill="#c8c8ca"/>
<rect x="483.62" y="191.1" width="4.3" height="11.0" fill="#c8c8ca"/>
<rect x="490.38" y="191.1" width="4.3" height="11.0" fill="#c8c8ca"/>
<rect x="497.14" y="191.1" width="4.3" height="11.0" fill="#c8c8ca"/>
<rect x="503.90" y="191.1" width="4.3" height="11.0" fill="#c8c8ca"/>
<rect x="241.22" y="191.1" width="4.08" height="11.0" fill="#0d4a8b"/>
<text x="152.8" y="199.40" class="t8" text-anchor="end">KRAS</text>
<rect x="254.0" y="123.10" width="1" height="81.30" fill="#1e1e1e"/>
<rect x="265.50" y="211.6" width="4.3" height="11.0" fill="#c8c8ca"/>
<rect x="272.30" y="211.6" width="4.3" height="11.0" fill="#c8c8ca"/>
<rect x="279.10" y="211.6" width="4.3" height="11.0" fill="#c8c8ca"/>
<rect x="285.90" y="211.6" width="4.3" height="11.0" fill="#c8c8ca"/>
<rect x="292.70" y="211.6" width="4.3" height="11.0" fill="#c8c8ca"/>
<rect x="299.50" y="211.6" width="4.3" height="11.0" fill="#cd0324"/>
<rect x="334.90" y="211.6" width="4.3" height="11.0" fill="#c8c8ca"/>
<rect x="341.66" y="211.6" width="4.3" height="11.0" fill="#c8c8ca"/>
<rect x="348.42" y="211.6" width="4.3" height="11.0" fill="#c8c8ca"/>
<rect x="355.18" y="211.6" width="4.3" height="11.0" fill="#c8c8ca"/>
<rect x="361.94" y="211.6" width="4.3" height="11.0" fill="#c8c8ca"/>
<rect x="368.70" y="211.6" width="4.3" height="11.0" fill="#c8c8ca"/>
<rect x="375.46" y="211.6" width="4.3" height="11.0" fill="#c8c8ca"/>
<rect x="382.22" y="211.6" width="4.3" height="11.0" fill="#c8c8ca"/>
<rect x="388.98" y="211.6" width="4.3" height="11.0" fill="#c8c8ca"/>
<rect x="395.74" y="211.6" width="4.3" height="11.0" fill="#c8c8ca"/>
<rect x="402.50" y="211.6" width="4.3" height="11.0" fill="#c8c8ca"/>
<rect x="409.26" y="211.6" width="4.3" height="11.0" fill="#c8c8ca"/>
<rect x="416.02" y="211.6" width="4.3" height="11.0" fill="#c8c8ca"/>
<rect x="422.78" y="211.6" width="4.3" height="11.0" fill="#c8c8ca"/>
<rect x="429.54" y="211.6" width="4.3" height="11.0" fill="#0d4a8b"/>
<rect x="436.30" y="211.6" width="4.3" height="11.0" fill="#c8c8ca"/>
<rect x="443.06" y="211.6" width="4.3" height="11.0" fill="#0d4a8b"/>
<rect x="449.82" y="211.6" width="4.3" height="11.0" fill="#c8c8ca"/>
<rect x="456.58" y="211.6" width="4.3" height="11.0" fill="#c8c8ca"/>
<rect x="463.34" y="211.6" width="4.3" height="11.0" fill="#c8c8ca"/>
<rect x="470.10" y="211.6" width="4.3" height="11.0" fill="#c8c8ca"/>
<rect x="476.86" y="211.6" width="4.3" height="11.0" fill="#c8c8ca"/>
<rect x="483.62" y="211.6" width="4.3" height="11.0" fill="#c8c8ca"/>
<rect x="490.38" y="211.6" width="4.3" height="11.0" fill="#c8c8ca"/>
<rect x="497.14" y="211.6" width="4.3" height="11.0" fill="#c8c8ca"/>
<rect x="503.90" y="211.6" width="4.3" height="11.0" fill="#c8c8ca"/>
<rect x="228.98" y="211.6" width="8.16" height="11.0" fill="#cd0324"/>
<rect x="237.14" y="211.6" width="8.16" height="11.0" fill="#0d4a8b"/>
<text x="152.8" y="219.90" class="t8" text-anchor="end">SF3B1</text>
<rect x="265.50" y="224.7" width="4.3" height="11.0" fill="#c8c8ca"/>
<rect x="272.30" y="224.7" width="4.3" height="11.0" fill="#c8c8ca"/>
<rect x="279.10" y="224.7" width="4.3" height="11.0" fill="#c8c8ca"/>
<rect x="285.90" y="224.7" width="4.3" height="11.0" fill="#c8c8ca"/>
<rect x="292.70" y="224.7" width="4.3" height="11.0" fill="#c8c8ca"/>
<rect x="299.50" y="224.7" width="4.3" height="11.0" fill="#c8c8ca"/>
<rect x="334.90" y="224.7" width="4.3" height="11.0" fill="#0d4a8b"/>
<rect x="341.66" y="224.7" width="4.3" height="11.0" fill="#c8c8ca"/>
<rect x="348.42" y="224.7" width="4.3" height="11.0" fill="#c8c8ca"/>
<rect x="355.18" y="224.7" width="4.3" height="11.0" fill="#c8c8ca"/>
<rect x="361.94" y="224.7" width="4.3" height="11.0" fill="#c8c8ca"/>
<rect x="368.70" y="224.7" width="4.3" height="11.0" fill="#c8c8ca"/>
<rect x="375.46" y="224.7" width="4.3" height="11.0" fill="#c8c8ca"/>
<rect x="382.22" y="224.7" width="4.3" height="11.0" fill="#c8c8ca"/>
<rect x="388.98" y="224.7" width="4.3" height="11.0" fill="#c8c8ca"/>
<rect x="395.74" y="224.7" width="4.3" height="11.0" fill="#c8c8ca"/>
<rect x="402.50" y="224.7" width="4.3" height="11.0" fill="#c8c8ca"/>
<rect x="409.26" y="224.7" width="4.3" height="11.0" fill="#c8c8ca"/>
<rect x="416.02" y="224.7" width="4.3" height="11.0" fill="#c8c8ca"/>
<rect x="422.78" y="224.7" width="4.3" height="11.0" fill="#0d4a8b"/>
<rect x="429.54" y="224.7" width="4.3" height="11.0" fill="#c8c8ca"/>
<rect x="436.30" y="224.7" width="4.3" height="11.0" fill="#c8c8ca"/>
<rect x="443.06" y="224.7" width="4.3" height="11.0" fill="#c8c8ca"/>
<rect x="449.82" y="224.7" width="4.3" height="11.0" fill="#c8c8ca"/>
<rect x="456.58" y="224.7" width="4.3" height="11.0" fill="#c8c8ca"/>
<rect x="463.34" y="224.7" width="4.3" height="11.0" fill="#c8c8ca"/>
<rect x="470.10" y="224.7" width="4.3" height="11.0" fill="#c8c8ca"/>
<rect x="476.86" y="224.7" width="4.3" height="11.0" fill="#c8c8ca"/>
<rect x="483.62" y="224.7" width="4.3" height="11.0" fill="#c8c8ca"/>
<rect x="490.38" y="224.7" width="4.3" height="11.0" fill="#c8c8ca"/>
<rect x="497.14" y="224.7" width="4.3" height="11.0" fill="#c8c8ca"/>
<rect x="503.90" y="224.7" width="4.3" height="11.0" fill="#c8c8ca"/>
<rect x="237.14" y="224.7" width="8.16" height="11.0" fill="#0d4a8b"/>
<text x="152.8" y="233.00" class="t8" text-anchor="end">SRSF2</text>
<rect x="254.0" y="208.90" width="1" height="29.10" fill="#1e1e1e"/>
<rect x="265.50" y="245.0" width="4.3" height="11.0" fill="#c8c8ca"/>
<rect x="272.30" y="245.0" width="4.3" height="11.0" fill="#c8c8ca"/>
<rect x="279.10" y="245.0" width="4.3" height="11.0" fill="#c8c8ca"/>
<rect x="285.90" y="245.0" width="4.3" height="11.0" fill="#c8c8ca"/>
<rect x="292.70" y="245.0" width="4.3" height="11.0" fill="#c8c8ca"/>
<rect x="299.50" y="245.0" width="4.3" height="11.0" fill="#c8c8ca"/>
<rect x="334.90" y="245.0" width="4.3" height="11.0" fill="#c8c8ca"/>
<rect x="341.66" y="245.0" width="4.3" height="11.0" fill="#c8c8ca"/>
<rect x="348.42" y="245.0" width="4.3" height="11.0" fill="#0d4a8b"/>
<rect x="355.18" y="245.0" width="4.3" height="11.0" fill="#c8c8ca"/>
<rect x="361.94" y="245.0" width="4.3" height="11.0" fill="#c8c8ca"/>
<rect x="368.70" y="245.0" width="4.3" height="11.0" fill="#c8c8ca"/>
<rect x="375.46" y="245.0" width="4.3" height="11.0" fill="#c8c8ca"/>
<rect x="382.22" y="245.0" width="4.3" height="11.0" fill="#c8c8ca"/>
<rect x="388.98" y="245.0" width="4.3" height="11.0" fill="#c8c8ca"/>
<rect x="395.74" y="245.0" width="4.3" height="11.0" fill="#c8c8ca"/>
<rect x="402.50" y="245.0" width="4.3" height="11.0" fill="#c8c8ca"/>
<rect x="409.26" y="245.0" width="4.3" height="11.0" fill="#c8c8ca"/>
<rect x="416.02" y="245.0" width="4.3" height="11.0" fill="#c8c8ca"/>
<rect x="422.78" y="245.0" width="4.3" height="11.0" fill="#c8c8ca"/>
<rect x="429.54" y="245.0" width="4.3" height="11.0" fill="#c8c8ca"/>
<rect x="436.30" y="245.0" width="4.3" height="11.0" fill="#c8c8ca"/>
<rect x="443.06" y="245.0" width="4.3" height="11.0" fill="#c8c8ca"/>
<rect x="449.82" y="245.0" width="4.3" height="11.0" fill="#c8c8ca"/>
<rect x="456.58" y="245.0" width="4.3" height="11.0" fill="#c8c8ca"/>
<rect x="463.34" y="245.0" width="4.3" height="11.0" fill="#c8c8ca"/>
<rect x="470.10" y="245.0" width="4.3" height="11.0" fill="#0d4a8b"/>
<rect x="476.86" y="245.0" width="4.3" height="11.0" fill="#c8c8ca"/>
<rect x="483.62" y="245.0" width="4.3" height="11.0" fill="#c8c8ca"/>
<rect x="490.38" y="245.0" width="4.3" height="11.0" fill="#c8c8ca"/>
<rect x="497.14" y="245.0" width="4.3" height="11.0" fill="#c8c8ca"/>
<rect x="503.90" y="245.0" width="4.3" height="11.0" fill="#c8c8ca"/>
<rect x="237.14" y="245.0" width="8.16" height="11.0" fill="#0d4a8b"/>
<text x="152.8" y="253.30" class="t8" text-anchor="end">TP53</text>
<rect x="265.50" y="258.1" width="4.3" height="11.0" fill="#c8c8ca"/>
<rect x="272.30" y="258.1" width="4.3" height="11.0" fill="#c8c8ca"/>
<rect x="279.10" y="258.1" width="4.3" height="11.0" fill="#c8c8ca"/>
<rect x="285.90" y="258.1" width="4.3" height="11.0" fill="#c8c8ca"/>
<rect x="292.70" y="258.1" width="4.3" height="11.0" fill="#c8c8ca"/>
<rect x="299.50" y="258.1" width="4.3" height="11.0" fill="#c8c8ca"/>
<rect x="334.90" y="258.1" width="4.3" height="11.0" fill="#c8c8ca"/>
<rect x="341.66" y="258.1" width="4.3" height="11.0" fill="#c8c8ca"/>
<rect x="348.42" y="258.1" width="4.3" height="11.0" fill="#0d4a8b"/>
<rect x="355.18" y="258.1" width="4.3" height="11.0" fill="#c8c8ca"/>
<rect x="361.94" y="258.1" width="4.3" height="11.0" fill="#c8c8ca"/>
<rect x="368.70" y="258.1" width="4.3" height="11.0" fill="#c8c8ca"/>
<rect x="375.46" y="258.1" width="4.3" height="11.0" fill="#c8c8ca"/>
<rect x="382.22" y="258.1" width="4.3" height="11.0" fill="#c8c8ca"/>
<rect x="388.98" y="258.1" width="4.3" height="11.0" fill="#c8c8ca"/>
<rect x="395.74" y="258.1" width="4.3" height="11.0" fill="#c8c8ca"/>
<rect x="402.50" y="258.1" width="4.3" height="11.0" fill="#c8c8ca"/>
<rect x="409.26" y="258.1" width="4.3" height="11.0" fill="#c8c8ca"/>
<rect x="416.02" y="258.1" width="4.3" height="11.0" fill="#c8c8ca"/>
<rect x="422.78" y="258.1" width="4.3" height="11.0" fill="#c8c8ca"/>
<rect x="429.54" y="258.1" width="4.3" height="11.0" fill="#c8c8ca"/>
<rect x="436.30" y="258.1" width="4.3" height="11.0" fill="#c8c8ca"/>
<rect x="443.06" y="258.1" width="4.3" height="11.0" fill="#c8c8ca"/>
<rect x="449.82" y="258.1" width="4.3" height="11.0" fill="#c8c8ca"/>
<rect x="456.58" y="258.1" width="4.3" height="11.0" fill="#c8c8ca"/>
<rect x="463.34" y="258.1" width="4.3" height="11.0" fill="#c8c8ca"/>
<rect x="470.10" y="258.1" width="4.3" height="11.0" fill="#c8c8ca"/>
<rect x="476.86" y="258.1" width="4.3" height="11.0" fill="#c8c8ca"/>
<rect x="483.62" y="258.1" width="4.3" height="11.0" fill="#c8c8ca"/>
<rect x="490.38" y="258.1" width="4.3" height="11.0" fill="#c8c8ca"/>
<rect x="497.14" y="258.1" width="4.3" height="11.0" fill="#c8c8ca"/>
<rect x="503.90" y="258.1" width="4.3" height="11.0" fill="#c8c8ca"/>
<rect x="241.22" y="258.1" width="4.08" height="11.0" fill="#0d4a8b"/>
<text x="152.8" y="266.40" class="t8" text-anchor="end">PPM1D</text>
<rect x="254.0" y="242.50" width="1" height="29.10" fill="#1e1e1e"/>
<rect x="265.50" y="278.3" width="4.3" height="11.0" fill="#c8c8ca"/>
<rect x="272.30" y="278.3" width="4.3" height="11.0" fill="#0d4a8b"/>
<rect x="279.10" y="278.3" width="4.3" height="11.0" fill="#cd0324"/>
<rect x="285.90" y="278.3" width="4.3" height="11.0" fill="#c8c8ca"/>
<rect x="292.70" y="278.3" width="4.3" height="11.0" fill="#c8c8ca"/>
<rect x="299.50" y="278.3" width="4.3" height="11.0" fill="#c8c8ca"/>
<rect x="334.90" y="278.3" width="4.3" height="11.0" fill="#c8c8ca"/>
<rect x="341.66" y="278.3" width="4.3" height="11.0" fill="#0d4a8b"/>
<rect x="348.42" y="278.3" width="4.3" height="11.0" fill="#c8c8ca"/>
<rect x="355.18" y="278.3" width="4.3" height="11.0" fill="#c8c8ca"/>
<rect x="361.94" y="278.3" width="4.3" height="11.0" fill="#c8c8ca"/>
<rect x="368.70" y="278.3" width="4.3" height="11.0" fill="#c8c8ca"/>
<rect x="375.46" y="278.3" width="4.3" height="11.0" fill="#c8c8ca"/>
<rect x="382.22" y="278.3" width="4.3" height="11.0" fill="#c8c8ca"/>
<rect x="388.98" y="278.3" width="4.3" height="11.0" fill="#c8c8ca"/>
<rect x="395.74" y="278.3" width="4.3" height="11.0" fill="#c8c8ca"/>
<rect x="402.50" y="278.3" width="4.3" height="11.0" fill="#c8c8ca"/>
<rect x="409.26" y="278.3" width="4.3" height="11.0" fill="#c8c8ca"/>
<rect x="416.02" y="278.3" width="4.3" height="11.0" fill="#0d4a8b"/>
<rect x="422.78" y="278.3" width="4.3" height="11.0" fill="#c8c8ca"/>
<rect x="429.54" y="278.3" width="4.3" height="11.0" fill="#c8c8ca"/>
<rect x="436.30" y="278.3" width="4.3" height="11.0" fill="#c8c8ca"/>
<rect x="443.06" y="278.3" width="4.3" height="11.0" fill="#c8c8ca"/>
<rect x="449.82" y="278.3" width="4.3" height="11.0" fill="#c8c8ca"/>
<rect x="456.58" y="278.3" width="4.3" height="11.0" fill="#c8c8ca"/>
<rect x="463.34" y="278.3" width="4.3" height="11.0" fill="#c8c8ca"/>
<rect x="470.10" y="278.3" width="4.3" height="11.0" fill="#c8c8ca"/>
<rect x="476.86" y="278.3" width="4.3" height="11.0" fill="#c8c8ca"/>
<rect x="483.62" y="278.3" width="4.3" height="11.0" fill="#c8c8ca"/>
<rect x="490.38" y="278.3" width="4.3" height="11.0" fill="#c8c8ca"/>
<rect x="497.14" y="278.3" width="4.3" height="11.0" fill="#c8c8ca"/>
<rect x="503.90" y="278.3" width="4.3" height="11.0" fill="#c8c8ca"/>
<rect x="228.98" y="278.3" width="4.08" height="11.0" fill="#cd0324"/>
<rect x="233.06" y="278.3" width="12.24" height="11.0" fill="#0d4a8b"/>
<text x="152.8" y="286.60" class="t8" text-anchor="end">NPM1</text>
<rect x="265.50" y="291.4" width="4.3" height="11.0" fill="#c8c8ca"/>
<rect x="272.30" y="291.4" width="4.3" height="11.0" fill="#c8c8ca"/>
<rect x="279.10" y="291.4" width="4.3" height="11.0" fill="#c8c8ca"/>
<rect x="285.90" y="291.4" width="4.3" height="11.0" fill="#c8c8ca"/>
<rect x="292.70" y="291.4" width="4.3" height="11.0" fill="#c8c8ca"/>
<rect x="299.50" y="291.4" width="4.3" height="11.0" fill="#c8c8ca"/>
<rect x="334.90" y="291.4" width="4.3" height="11.0" fill="#c8c8ca"/>
<rect x="341.66" y="291.4" width="4.3" height="11.0" fill="#c8c8ca"/>
<rect x="348.42" y="291.4" width="4.3" height="11.0" fill="#c8c8ca"/>
<rect x="355.18" y="291.4" width="4.3" height="11.0" fill="#c8c8ca"/>
<rect x="361.94" y="291.4" width="4.3" height="11.0" fill="#c8c8ca"/>
<rect x="368.70" y="291.4" width="4.3" height="11.0" fill="#c8c8ca"/>
<rect x="375.46" y="291.4" width="4.3" height="11.0" fill="#c8c8ca"/>
<rect x="382.22" y="291.4" width="4.3" height="11.0" fill="#c8c8ca"/>
<rect x="388.98" y="291.4" width="4.3" height="11.0" fill="#c8c8ca"/>
<rect x="395.74" y="291.4" width="4.3" height="11.0" fill="#c8c8ca"/>
<rect x="402.50" y="291.4" width="4.3" height="11.0" fill="#c8c8ca"/>
<rect x="409.26" y="291.4" width="4.3" height="11.0" fill="#c8c8ca"/>
<rect x="416.02" y="291.4" width="4.3" height="11.0" fill="#0d4a8b"/>
<rect x="422.78" y="291.4" width="4.3" height="11.0" fill="#c8c8ca"/>
<rect x="429.54" y="291.4" width="4.3" height="11.0" fill="#c8c8ca"/>
<rect x="436.30" y="291.4" width="4.3" height="11.0" fill="#c8c8ca"/>
<rect x="443.06" y="291.4" width="4.3" height="11.0" fill="#c8c8ca"/>
<rect x="449.82" y="291.4" width="4.3" height="11.0" fill="#c8c8ca"/>
<rect x="456.58" y="291.4" width="4.3" height="11.0" fill="#c8c8ca"/>
<rect x="463.34" y="291.4" width="4.3" height="11.0" fill="#c8c8ca"/>
<rect x="470.10" y="291.4" width="4.3" height="11.0" fill="#c8c8ca"/>
<rect x="476.86" y="291.4" width="4.3" height="11.0" fill="#c8c8ca"/>
<rect x="483.62" y="291.4" width="4.3" height="11.0" fill="#c8c8ca"/>
<rect x="490.38" y="291.4" width="4.3" height="11.0" fill="#c8c8ca"/>
<rect x="497.14" y="291.4" width="4.3" height="11.0" fill="#c8c8ca"/>
<rect x="503.90" y="291.4" width="4.3" height="11.0" fill="#c8c8ca"/>
<rect x="241.22" y="291.4" width="4.08" height="11.0" fill="#0d4a8b"/>
<text x="152.8" y="299.70" class="t8" text-anchor="end">GATA2</text>
<rect x="254.0" y="276.10" width="1" height="28.60" fill="#1e1e1e"/>
<rect x="14.5" y="47.30" width="497.2" height="1.45" fill="#2e2e2e"/>
<rect x="14.5" y="120.10" width="497.2" height="1.45" fill="#2e2e2e"/>
<rect x="14.5" y="205.90" width="497.2" height="1.45" fill="#2e2e2e"/>
<rect x="14.5" y="239.50" width="497.2" height="1.45" fill="#2e2e2e"/>
<rect x="14.5" y="273.10" width="497.2" height="1.45" fill="#2e2e2e"/>
<rect x="14.5" y="306.20" width="497.2" height="1.45" fill="#2e2e2e"/>
<rect x="312.0" y="48.7" width="13.6" height="257.6" fill="#f0c8bc"/>
<rect x="312.0" y="120.10" width="13.6" height="1.4" fill="#e2aca2"/>
<rect x="312.0" y="205.90" width="13.6" height="1.4" fill="#e2aca2"/>
<rect x="312.0" y="239.50" width="13.6" height="1.4" fill="#e2aca2"/>
<rect x="312.0" y="273.10" width="13.6" height="1.4" fill="#e2aca2"/>
<rect x="313.20" y="52.8" width="4.6" height="11.0" fill="#dfaba1"/>
<rect x="320.00" y="52.8" width="4.6" height="11.0" fill="#dfaba1"/>
<rect x="313.20" y="66.0" width="4.6" height="11.0" fill="#dfaba1"/>
<rect x="320.00" y="66.0" width="4.6" height="11.0" fill="#dfaba1"/>
<rect x="313.20" y="79.2" width="4.6" height="11.0" fill="#dfaba1"/>
<rect x="320.00" y="79.2" width="4.6" height="11.0" fill="#dfaba1"/>
<rect x="313.20" y="92.3" width="4.6" height="11.0" fill="#dfaba1"/>
<rect x="320.00" y="92.3" width="4.6" height="11.0" fill="#dfaba1"/>
<rect x="313.20" y="105.5" width="4.6" height="11.0" fill="#dfaba1"/>
<rect x="320.00" y="105.5" width="4.6" height="11.0" fill="#dfaba1"/>
<rect x="313.20" y="125.4" width="4.6" height="11.0" fill="#d4504f"/>
<rect x="320.00" y="125.4" width="4.6" height="11.0" fill="#dfaba1"/>
<rect x="313.20" y="138.7" width="4.6" height="11.0" fill="#dfaba1"/>
<rect x="320.00" y="138.7" width="4.6" height="11.0" fill="#d4504f"/>
<rect x="313.20" y="151.9" width="4.6" height="11.0" fill="#dfaba1"/>
<rect x="320.00" y="151.9" width="4.6" height="11.0" fill="#dfaba1"/>
<rect x="313.20" y="165.0" width="4.6" height="11.0" fill="#dfaba1"/>
<rect x="320.00" y="165.0" width="4.6" height="11.0" fill="#dfaba1"/>
<rect x="313.20" y="178.1" width="4.6" height="11.0" fill="#dfaba1"/>
<rect x="320.00" y="178.1" width="4.6" height="11.0" fill="#dfaba1"/>
<rect x="313.20" y="191.1" width="4.6" height="11.0" fill="#dfaba1"/>
<rect x="320.00" y="191.1" width="4.6" height="11.0" fill="#dfaba1"/>
<rect x="313.20" y="211.6" width="4.6" height="11.0" fill="#d4504f"/>
<rect x="320.00" y="211.6" width="4.6" height="11.0" fill="#dfaba1"/>
<rect x="313.20" y="224.7" width="4.6" height="11.0" fill="#dfaba1"/>
<rect x="320.00" y="224.7" width="4.6" height="11.0" fill="#dfaba1"/>
<rect x="313.20" y="245.0" width="4.6" height="11.0" fill="#dfaba1"/>
<rect x="320.00" y="245.0" width="4.6" height="11.0" fill="#dfaba1"/>
<rect x="313.20" y="258.1" width="4.6" height="11.0" fill="#dfaba1"/>
<rect x="320.00" y="258.1" width="4.6" height="11.0" fill="#dfaba1"/>
<rect x="313.20" y="278.3" width="4.6" height="11.0" fill="#dfaba1"/>
<rect x="320.00" y="278.3" width="4.6" height="11.0" fill="#dfaba1"/>
<rect x="313.20" y="291.4" width="4.6" height="11.0" fill="#dfaba1"/>
<rect x="320.00" y="291.4" width="4.6" height="11.0" fill="#dfaba1"/>
<text x="84.2" y="82.1" class="t74" text-anchor="end">Epigenetic</text>
<text x="84.2" y="91.0" class="t74" text-anchor="end">modifiers</text>
<text x="85.7" y="154.6" class="t74" text-anchor="end">Tyrosine</text>
<text x="85.7" y="163.5" class="t74" text-anchor="end">kinase</text>
<text x="85.7" y="172.2" class="t74" text-anchor="end">signaling</text>
<text x="84.1" y="220.4" class="t74" text-anchor="end">Spliceosome</text>
<text x="84.1" y="229.1" class="t74" text-anchor="end">components</text>
<text x="83.9" y="253.6" class="t74" text-anchor="end">DNA damage</text>
<text x="83.9" y="262.8" class="t74" text-anchor="end">response</text>
<text x="83.8" y="293.9" class="t74" text-anchor="end">Other</text>
<text x="161" y="317.3" class="t76" text-anchor="middle">25%</text>
<text x="212" y="317.3" class="t76" text-anchor="middle">10%</text>
<text x="245.4" y="317.3" class="t76" text-anchor="middle">0%</text>
<text x="0" y="0" class="t75c" text-anchor="middle" transform="translate(203.0 329.7) scale(0.68 1)">Percent of patients</text>
<line x1="318.9" y1="320.5" x2="318.9" y2="312" stroke="#222" stroke-width="1"/>
<path d="M316.9 313.2 L318.9 309.4 L320.9 313.2 Z" fill="#222"/>
<text x="318.7" y="330.7" class="t72" text-anchor="middle">Early relapse</text>
<text x="6.8" y="15.8" class="big">A</text>
<text x="6.8" y="357.2" class="big">B</text>
<rect x="285" y="360" width="8.6" height="8.3" fill="#c5c5c7"/>
<text x="296.8" y="366.8" class="t76">D0+/D90&#8722;</text>
<rect x="347.3" y="360" width="8.6" height="8.3" fill="#4b1b6b"/>
<text x="358.8" y="366.8" class="t76">D0+/D90+</text>
<rect x="50.6" y="375.9" width="111.6" height="14.50" fill="#c8c8cb" stroke="#222" stroke-width="1.15"/>
<text x="106.40" y="385.40" class="t8" text-anchor="middle">Pt #3</text>
<rect x="50.050000000000004" y="390.4" width="1.1" height="62.00" fill="#222"/>
<rect x="47.300000000000004" y="393.20" width="3" height="1" fill="#222"/>
<text x="44.800000000000004" y="396.30" class="t79" text-anchor="end">100%</text>
<rect x="47.300000000000004" y="407.10" width="3" height="1" fill="#222"/>
<text x="44.800000000000004" y="410.20" class="t79" text-anchor="end">10%</text>
<rect x="47.300000000000004" y="421.00" width="3" height="1" fill="#222"/>
<text x="44.800000000000004" y="424.10" class="t79" text-anchor="end">1%</text>
<rect x="47.300000000000004" y="434.90" width="3" height="1" fill="#222"/>
<text x="44.800000000000004" y="438.00" class="t79" text-anchor="end">0.1%</text>
<rect x="47.300000000000004" y="448.80" width="3" height="1" fill="#222"/>
<text x="44.800000000000004" y="451.90" class="t79" text-anchor="end">0.01%</text>
<rect x="167.3" y="375.9" width="111.6" height="14.50" fill="#c8c8cb" stroke="#222" stroke-width="1.15"/>
<text x="223.10" y="385.40" class="t8" text-anchor="middle">Pt #23</text>
<rect x="284.7" y="375.9" width="111.6" height="14.50" fill="#c8c8cb" stroke="#222" stroke-width="1.15"/>
<text x="340.50" y="385.40" class="t8" text-anchor="middle">Pt #50</text>
<rect x="401.5" y="375.9" width="111.6" height="14.50" fill="#c8c8cb" stroke="#222" stroke-width="1.15"/>
<text x="457.30" y="385.40" class="t8" text-anchor="middle">Pt #51</text>
<rect x="50.6" y="472.1" width="111.6" height="62.19999999999993" fill="#f0c8bc"/>
<rect x="50.6" y="457.7" width="111.6" height="14.40" fill="#c8c8cb" stroke="#222" stroke-width="1.15"/>
<text x="106.40" y="467.20" class="t8" text-anchor="middle">Pt #57</text>
<rect x="50.050000000000004" y="472.1" width="1.1" height="62.20" fill="#222"/>
<rect x="47.300000000000004" y="474.90" width="3" height="1" fill="#222"/>
<text x="44.800000000000004" y="478.00" class="t79" text-anchor="end">100%</text>
<rect x="47.300000000000004" y="488.80" width="3" height="1" fill="#222"/>
<text x="44.800000000000004" y="491.90" class="t79" text-anchor="end">10%</text>
<rect x="47.300000000000004" y="502.70" width="3" height="1" fill="#222"/>
<text x="44.800000000000004" y="505.80" class="t79" text-anchor="end">1%</text>
<rect x="47.300000000000004" y="516.60" width="3" height="1" fill="#222"/>
<text x="44.800000000000004" y="519.70" class="t79" text-anchor="end">0.1%</text>
<rect x="47.300000000000004" y="530.50" width="3" height="1" fill="#222"/>
<text x="44.800000000000004" y="533.60" class="t79" text-anchor="end">0.01%</text>
<rect x="50.050000000000004" y="533.6999999999999" width="112.14999999999999" height="1.1" fill="#222"/>
<rect x="80.10" y="534.3" width="1" height="3" fill="#222"/>
<text x="80.80" y="546.70" class="t77" text-anchor="middle">Day0</text>
<rect x="131.00" y="534.3" width="1" height="3" fill="#222"/>
<text x="131.70" y="546.70" class="t77" text-anchor="middle">Day90</text>
<text x="105.90" y="513.2" class="t8b" text-anchor="middle">Early relapse</text>
<rect x="167.3" y="457.7" width="111.6" height="14.40" fill="#c8c8cb" stroke="#222" stroke-width="1.15"/>
<text x="223.10" y="467.20" class="t8" text-anchor="middle">Pt #60</text>
<rect x="166.75" y="533.6999999999999" width="112.14999999999999" height="1.1" fill="#222"/>
<rect x="197.20" y="534.3" width="1" height="3" fill="#222"/>
<text x="197.90" y="546.70" class="t77" text-anchor="middle">Day0</text>
<rect x="248.10" y="534.3" width="1" height="3" fill="#222"/>
<text x="248.80" y="546.70" class="t77" text-anchor="middle">Day90</text>
<rect x="284.7" y="472.1" width="111.6" height="62.19999999999993" fill="#f0c8bc"/>
<rect x="284.7" y="457.7" width="111.6" height="14.40" fill="#c8c8cb" stroke="#222" stroke-width="1.15"/>
<text x="340.50" y="467.20" class="t8" text-anchor="middle">Pt #77</text>
<rect x="284.15" y="533.6999999999999" width="112.14999999999999" height="1.1" fill="#222"/>
<rect x="314.40" y="534.3" width="1" height="3" fill="#222"/>
<text x="315.10" y="546.70" class="t77" text-anchor="middle">Day0</text>
<rect x="365.20" y="534.3" width="1" height="3" fill="#222"/>
<text x="365.90" y="546.70" class="t77" text-anchor="middle">Day90</text>
<text x="340.00" y="513.2" class="t8b" text-anchor="middle">Early relapse</text>
<rect x="401.5" y="457.7" width="111.6" height="14.40" fill="#c8c8cb" stroke="#222" stroke-width="1.15"/>
<text x="457.30" y="467.20" class="t8" text-anchor="middle">Pt #79</text>
<rect x="400.95" y="533.6999999999999" width="112.14999999999999" height="1.1" fill="#222"/>
<rect x="431.10" y="534.3" width="1" height="3" fill="#222"/>
<text x="431.80" y="546.70" class="t77" text-anchor="middle">Day0</text>
<rect x="482.20" y="534.3" width="1" height="3" fill="#222"/>
<text x="482.90" y="546.70" class="t77" text-anchor="middle">Day90</text>
<line x1="80.6" y1="404.5" x2="126" y2="440.5" stroke="#c0b8c8" stroke-width="1.0" opacity="1" stroke-dasharray="1.6 0.8"/>
<circle cx="80.6" cy="404.5" r="1.6" fill="#c6c6c6"/>
<line x1="80.6" y1="399.0" x2="131.5" y2="441.7" stroke="#4d2765" stroke-width="1.2" opacity="1"/>
<circle cx="80.6" cy="399.0" r="2.05" fill="#33134a"/>
<circle cx="131.5" cy="441.7" r="2.05" fill="#33134a"/>
<text x="78.0" y="396.3" class="t5" style="fill:#2a2a2a;stroke:none" text-anchor="end">FLT3</text>
<text x="78.0" y="400.1" class="t5" style="fill:#2a2a2a;stroke:none" text-anchor="end">ITD</text>
<text x="103.8" y="396.4" class="t5" style="fill:#c3cbc3;stroke:none" text-anchor="end">DNMT3A</text>
<text x="103.8" y="400.4" class="t5" style="fill:#c3cbc3;stroke:none" text-anchor="end">R882H</text>
<text x="78.8" y="406.3" class="t5" style="fill:#bdbdbd;stroke:none" text-anchor="end">NPM1</text>
<text x="78.8" y="411.5" class="t5" style="fill:#bdbdbd;stroke:none" text-anchor="end">W288Cfs</text>
<line x1="197.7" y1="398.4" x2="248.6" y2="423.3" stroke="#4d2765" stroke-width="1.2" opacity="1"/>
<circle cx="197.7" cy="398.4" r="2.05" fill="#33134a"/>
<circle cx="248.6" cy="423.3" r="2.05" fill="#33134a"/>
<text x="195.0" y="398.3" class="t5" style="fill:#2a2a2a;stroke:none" text-anchor="end">DNMT3A</text>
<text x="195.0" y="402.6" class="t5" style="fill:#2a2a2a;stroke:none" text-anchor="end">R882H</text>
<line x1="314.9" y1="398.2" x2="365.7" y2="416.9" stroke="#4d2765" stroke-width="1.2" opacity="1"/>
<line x1="314.9" y1="403.0" x2="365.7" y2="428.0" stroke="#4d2765" stroke-width="1.2" opacity="1"/>
<line x1="314.9" y1="424.6" x2="365.7" y2="416.9" stroke="#4d2765" stroke-width="1.2" opacity="1"/>
<circle cx="314.9" cy="398.2" r="2.05" fill="#33134a"/>
<circle cx="314.9" cy="403.0" r="2.05" fill="#33134a"/>
<circle cx="314.9" cy="424.6" r="2.05" fill="#33134a"/>
<circle cx="365.7" cy="416.9" r="2.05" fill="#33134a"/>
<circle cx="365.7" cy="428.0" r="2.05" fill="#33134a"/>
<text x="312.0" y="395.5" class="t5" style="fill:#2a2a2a;stroke:none" text-anchor="end">DNMT3A</text>
<text x="312.0" y="399.8" class="t5" style="fill:#2a2a2a;stroke:none" text-anchor="end">R882H</text>
<text x="312.0" y="407.2" class="t5" style="fill:#2a2a2a;stroke:none" text-anchor="end">NPM1</text>
<text x="312.0" y="411.8" class="t5" style="fill:#2a2a2a;stroke:none" text-anchor="end">W288Cfs</text>
<text x="312.0" y="424.1" class="t5" style="fill:#2a2a2a;stroke:none" text-anchor="end">FLT3</text>
<text x="312.0" y="428.7" class="t5" style="fill:#2a2a2a;stroke:none" text-anchor="end">ITD</text>
<line x1="431.6" y1="424" x2="465" y2="445.5" stroke="#c8c2ce" stroke-width="1.0" opacity="1" stroke-dasharray="1.6 0.8"/>
<line x1="431.6" y1="422.2" x2="482.7" y2="426.0" stroke="#4d2765" stroke-width="1.2" opacity="1"/>
<circle cx="431.6" cy="422.2" r="2.05" fill="#33134a"/>
<circle cx="482.7" cy="426.0" r="2.05" fill="#33134a"/>
<text x="429.0" y="415.1" class="t5" style="fill:#2a2a2a;stroke:none" text-anchor="end">NRAS</text>
<text x="429.0" y="420.2" class="t5" style="fill:#2a2a2a;stroke:none" text-anchor="end">G13D</text>
<text x="428.6" y="429.2" class="t5" style="fill:#bdbdbd;stroke:none" text-anchor="end">DNMT3A</text>
<text x="428.6" y="434.0" class="t5" style="fill:#bdbdbd;stroke:none" text-anchor="end">R882H</text>
<line x1="80.8" y1="480.3" x2="131.5" y2="489.2" stroke="#4a2460" stroke-width="2.1" opacity="1"/>
<circle cx="80.8" cy="480.2" r="2.0" fill="#33134a"/>
<circle cx="131.5" cy="488.6" r="2.1" fill="#33134a"/>
<circle cx="131.5" cy="490.0" r="2.1" fill="#33134a"/>
<text x="78.4" y="476.9" class="t5" style="fill:#2a2020;stroke:none" text-anchor="end">SF3B1</text>
<text x="78.5" y="481.5" class="t5" style="fill:#2a2020;stroke:none" text-anchor="end">K666N</text>
<text x="82.9" y="487.6" class="t5" style="fill:#2a2020;stroke:none" text-anchor="end">NRAS</text>
<text x="82.9" y="492.4" class="t5" style="fill:#2a2020;stroke:none" text-anchor="end">G12A</text>
<line x1="197.7" y1="502.9" x2="248.6" y2="509.7" stroke="#4d2765" stroke-width="1.2" opacity="1"/>
<circle cx="197.7" cy="502.9" r="2.05" fill="#33134a"/>
<circle cx="248.6" cy="509.7" r="2.05" fill="#33134a"/>
<text x="195.0" y="502.8" class="t5" style="fill:#2a2a2a;stroke:none" text-anchor="end">DNMT3A</text>
<text x="195.0" y="507.3" class="t5" style="fill:#2a2a2a;stroke:none" text-anchor="end">R882H</text>
<line x1="314.9" y1="498.1" x2="365.7" y2="486.2" stroke="#4d2765" stroke-width="1.2" opacity="1"/>
<circle cx="314.9" cy="498.1" r="2.05" fill="#33134a"/>
<circle cx="365.7" cy="486.2" r="2.05" fill="#33134a"/>
<text x="312.0" y="497.2" class="t5" style="fill:#2a2020;stroke:none" text-anchor="end">FLT3</text>
<text x="312.0" y="502.1" class="t5" style="fill:#2a2020;stroke:none" text-anchor="end">ITD</text>
<line x1="431.6" y1="502.9" x2="482.7" y2="515.6" stroke="#4d2765" stroke-width="1.2" opacity="1"/>
<circle cx="431.6" cy="502.9" r="2.05" fill="#33134a"/>
<circle cx="482.7" cy="515.6" r="2.05" fill="#33134a"/>
<text x="429.0" y="502.4" class="t5" style="fill:#2a2a2a;stroke:none" text-anchor="end">SF3B1</text>
<text x="428.8" y="506.9" class="t5" style="fill:#2a2a2a;stroke:none" text-anchor="end">K700E</text>
<text x="0" y="0" class="t75c" text-anchor="middle" transform="translate(16.2 455.1) rotate(-90) scale(0.68 1)">Log10 (family VAF)</text>
<text x="0" y="0" class="t75c" text-anchor="middle" transform="translate(281.8 559.9) scale(0.665 1)">Timepoint</text>
</svg></div></body></html>
